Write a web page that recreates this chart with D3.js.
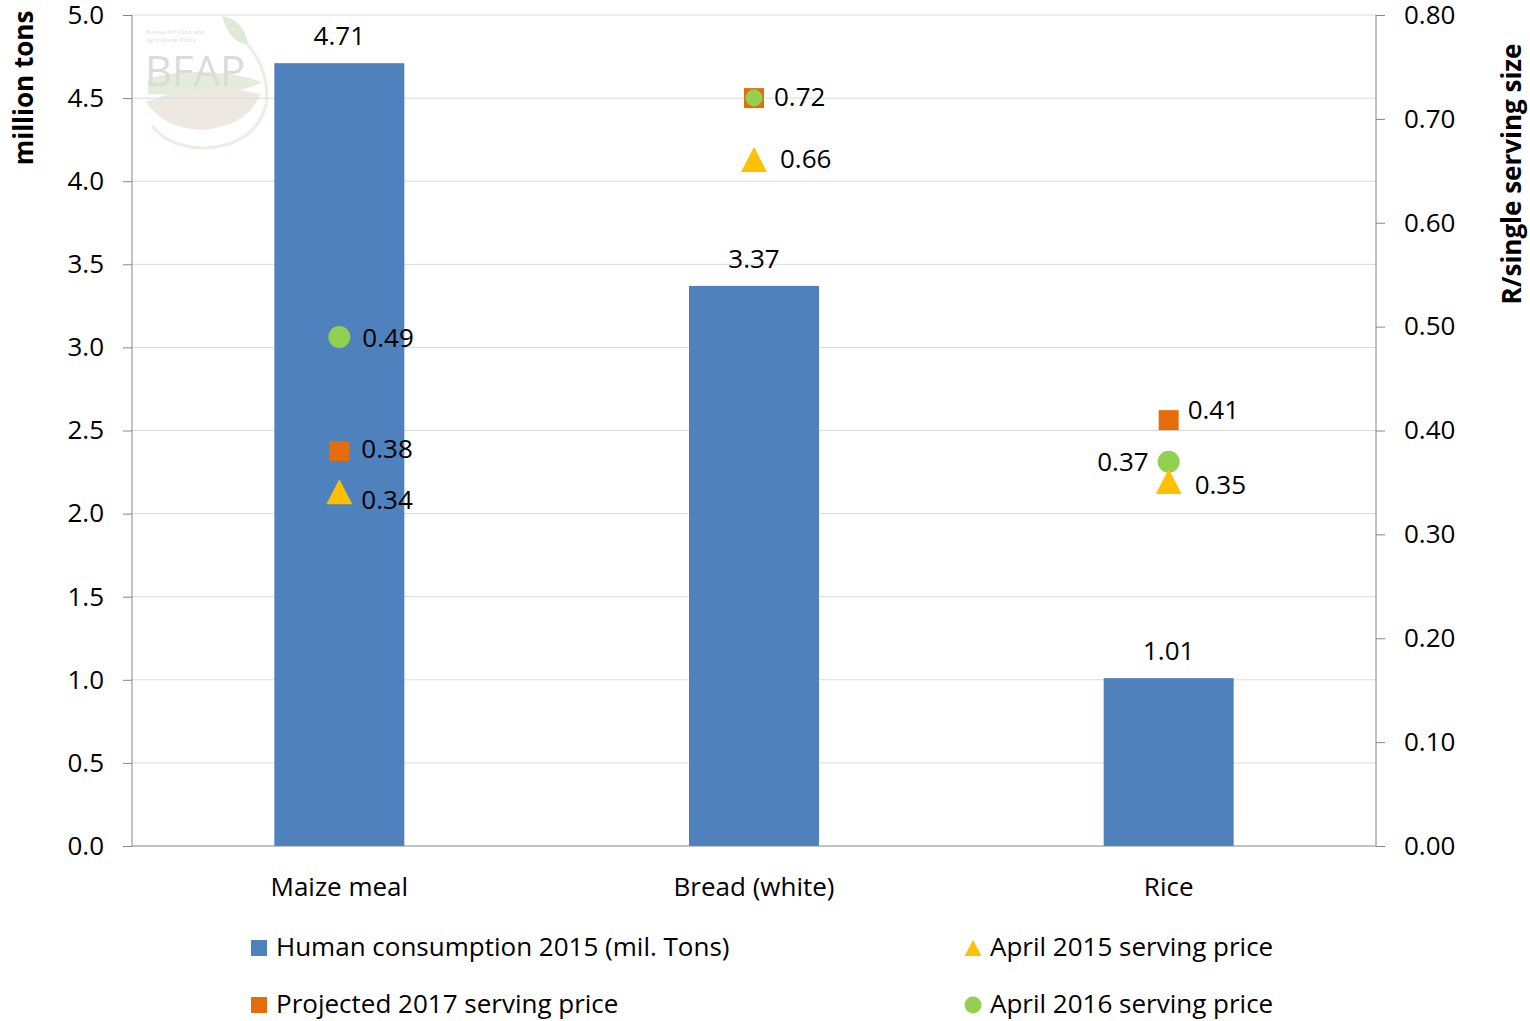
<!DOCTYPE html>
<html><head><meta charset="utf-8">
<script src="https://cdn.jsdelivr.net/npm/d3@7"></script>
<style>body{margin:0;background:#fff}text{font-family:"Open Sans",sans-serif}</style>
</head><body><svg id="c" width="1530" height="1021"></svg>
<script>
const categories = ["Maize meal", "Bread (white)", "Rice"];
const consumption = [4.71, 3.37, 1.01];
const price2015 = [0.34, 0.66, 0.35];
const price2016 = [0.49, 0.72, 0.37];
const price2017 = [0.38, 0.72, 0.41];
const leftTicks = [0, 0.5, 1.0, 1.5, 2.0, 2.5, 3.0, 3.5, 4.0, 4.5, 5.0];
const rightTicks = [0, 0.1, 0.2, 0.3, 0.4, 0.5, 0.6, 0.7, 0.8];
const seriesNames = ["Human consumption 2015 (mil. Tons)", "April 2015 serving price", "Projected 2017 serving price", "April 2016 serving price"];

const C = {blue:"#4F81BD", orange:"#E46C0A", green:"#92D050", yellow:"#FFC000"};
const FS = 26;
const svg = d3.select("#c");
const L=132, R=1376, T=15, B=846;
const x = d3.scaleBand().domain(categories).range([L,R]).paddingInner(0).paddingOuter(0);
const yL = d3.scaleLinear().domain([0,5]).range([B,T]);
const yR = d3.scaleLinear().domain([0,0.8]).range([B,T]);

// watermark
const wm = svg.append("g").attr("opacity",0.6);
wm.append("path").attr("d","M148,78 Q210,64 262,82 Q235,98 148,94 Z").attr("fill","#cfe3c4");
wm.append("path").attr("d","M146,102 Q200,80 260,94 Q250,124 205,130 Q165,130 146,102 Z").attr("fill","#e3d9d0");
wm.append("path").attr("d","M228,26 Q272,60 266,105 Q255,145 205,148 Q170,148 152,126").attr("fill","none").attr("stroke","#d8e9cf").attr("stroke-width",3);
wm.append("path").attr("d","M222,16 Q244,20 248,44 Q230,44 222,16 Z").attr("fill","#c7deb9");
wm.append("text").attr("x",145).attr("y",86).attr("font-family","Liberation Serif,serif").attr("font-size",42)
  .attr("textLength",100).attr("lengthAdjust","spacingAndGlyphs").attr("fill","#c4c4c4").text("BFAP");
wm.append("text").attr("x",146).attr("y",34).attr("font-size",6).attr("fill","#c4c4c4").text("Bureau for Food and");
wm.append("text").attr("x",146).attr("y",42).attr("font-size",6).attr("fill","#c4c4c4").text("Agricultural Policy");

// gridlines
svg.append("g").selectAll("line").data(leftTicks.filter(d=>d>0)).join("line")
  .attr("x1",L).attr("x2",R).attr("y1",d=>yL(d)).attr("y2",d=>yL(d))
  .attr("stroke","#d9d9d9").attr("stroke-width",1);

// bars
const bw = 130;
svg.append("g").selectAll("rect").data(consumption).join("rect")
  .attr("x",(d,i)=>x(categories[i])+x.bandwidth()/2-bw/2).attr("width",bw)
  .attr("y",d=>yL(d)).attr("height",d=>B-yL(d)).attr("fill",C.blue);
svg.append("g").selectAll("text").data(consumption).join("text")
  .attr("x",(d,i)=>x(categories[i])+x.bandwidth()/2).attr("y",d=>yL(d)-18)
  .attr("text-anchor","middle").attr("font-size",FS).attr("fill","#000").text(d=>d.toFixed(2));

// axes
const axL = d3.axisLeft(yL).tickValues(leftTicks).tickFormat(d3.format(".1f")).tickSize(9).tickPadding(19);
const gL = svg.append("g").attr("transform",`translate(${L},0)`).call(axL);
const axR = d3.axisRight(yR).tickValues(rightTicks).tickFormat(d3.format(".2f")).tickSize(9).tickPadding(19);
const gR = svg.append("g").attr("transform",`translate(${R},0)`).call(axR);
[gL,gR].forEach(g=>{
  g.select(".domain").attr("stroke","#868686").attr("d",`M0,${T}V${B}`);
  g.selectAll(".tick line").attr("stroke","#868686");
  g.selectAll(".tick text").attr("font-size",FS).attr("fill","#000").attr("font-family","Open Sans,sans-serif");
});
svg.append("line").attr("x1",L).attr("x2",R).attr("y1",B).attr("y2",B).attr("stroke","#868686");

// category labels
svg.append("g").selectAll("text").data(categories).join("text")
  .attr("x",d=>x(d)+x.bandwidth()/2).attr("y",896).attr("text-anchor","middle")
  .attr("font-size",FS).attr("fill","#000").text(d=>d);

// axis titles
svg.append("text").attr("transform","translate(33,88) rotate(-90)").attr("text-anchor","middle")
  .attr("font-size",FS).attr("font-weight","bold").text("million tons");
svg.append("text").attr("transform","translate(1521,174) rotate(-90)").attr("text-anchor","middle")
  .attr("font-size",FS).attr("font-weight","bold").text("R/single serving size");

// markers
const cx = i => x(categories[i])+x.bandwidth()/2;
const triPath = (w,h) => `M0,${-h/2}L${w/2},${h/2}L${-w/2},${h/2}Z`;
const g = svg.append("g");
g.selectAll(".sq").data(price2017).join("rect")
  .attr("x",(d,i)=>cx(i)-10).attr("y",d=>yR(d)-10).attr("width",20).attr("height",20).attr("fill",C.orange);
g.selectAll(".ci").data(price2016).join("circle")
  .attr("cx",(d,i)=>cx(i)).attr("cy",d=>yR(d)).attr("r",(d,i)=>i===1?8.5:11).attr("fill",C.green);
g.selectAll(".tr").data(price2015).join("path")
  .attr("d",triPath(26,25)).attr("transform",(d,i)=>`translate(${cx(i)},${yR(d)-1})`).attr("fill",C.yellow);

// labels: [dx, dy, anchor] relative to marker centre
const lab2017 = [[22,7,"start"],[20,8,"start"],[19,-1,"start"]];
const lab2016 = [[23,10,"start"],null,[-20,9,"end"]];
const lab2015 = [[22,16,"start"],[26,8,"start"],[26,12,"start"]];
function labels(vals, offs){
  svg.append("g").selectAll("text").data(vals.map((v,i)=>[v,i]).filter(d=>offs[d[1]])).join("text")
    .attr("x",d=>cx(d[1])+offs[d[1]][0]).attr("y",d=>yR(d[0])+offs[d[1]][1])
    .attr("text-anchor",d=>offs[d[1]][2])
    .attr("font-size",FS).attr("fill","#000").text(d=>d[0].toFixed(2));
}
labels(price2017, lab2017);
labels(price2016, lab2016);
labels(price2015, lab2015);

// legend
const leg = svg.append("g");
const items = [
  {name:seriesNames[0], x:251, y:948, shape:"sq", color:C.blue},
  {name:seriesNames[1], x:965, y:948, shape:"tr", color:C.yellow},
  {name:seriesNames[2], x:251, y:1005, shape:"sq", color:C.orange},
  {name:seriesNames[3], x:965, y:1005, shape:"ci", color:C.green}
];
items.forEach(it=>{
  if(it.shape==="sq") leg.append("rect").attr("x",it.x).attr("y",it.y-8).attr("width",16).attr("height",16).attr("fill",it.color);
  if(it.shape==="tr") leg.append("path").attr("d",triPath(17,16)).attr("transform",`translate(${it.x+8},${it.y})`).attr("fill",it.color);
  if(it.shape==="ci") leg.append("circle").attr("cx",it.x+8).attr("cy",it.y).attr("r",8.5).attr("fill",it.color);
  leg.append("text").attr("x",it.x+25).attr("y",it.y+8).attr("font-size",FS).attr("fill","#000").text(it.name);
});
</script></body></html>
